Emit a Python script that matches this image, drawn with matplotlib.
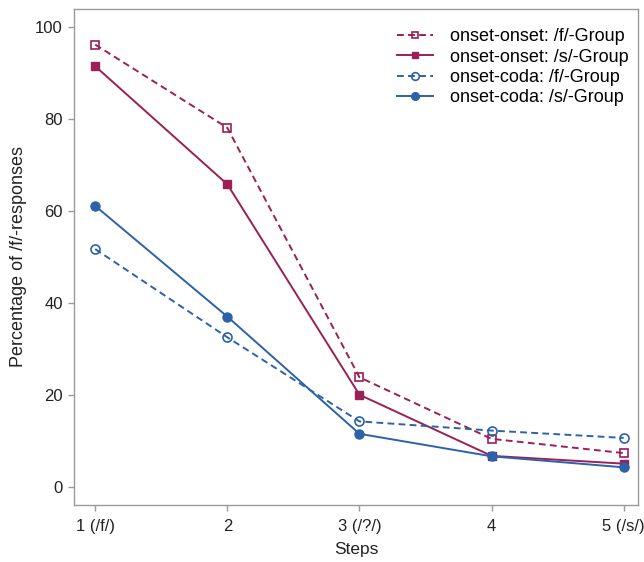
import matplotlib
matplotlib.use("Agg")
import matplotlib.pyplot as plt

plt.rcParams['font.family'] = ['Liberation Sans', 'DejaVu Sans']

steps = [1, 2, 3, 4, 5]
stepLabels = ['1 (/f/)', '2', '3 (/?/)', '4', '5 (/s/)']

onsetOnsetF = [96.2, 78.1, 23.8, 10.4, 7.3]
onsetOnsetS = [91.5, 65.8, 20.0, 6.7, 5.0]
onsetCodaF = [51.7, 32.5, 14.2, 12.2, 10.6]
onsetCodaS = [61.1, 37.0, 11.5, 6.6, 4.2]

red = '#9c1f55'
blue = '#2b62aa'
gray = '#9a9a9a'

fig = plt.figure(figsize=(6.44, 5.62), dpi=100)
ax = fig.add_axes([0.115, 0.1014, 0.876, 0.883])

dash = (0, (3.5, 2.2))
ax.plot(steps, onsetOnsetF, color=red, linestyle=dash, linewidth=1.4,
        marker='s', markersize=5.5, markerfacecolor='none', markeredgecolor=red,
        markeredgewidth=1.2, label='onset-onset: /f/-Group')
ax.plot(steps, onsetOnsetS, color=red, linestyle='-', linewidth=1.4,
        marker='s', markersize=5.5, label='onset-onset: /s/-Group')
ax.plot(steps, onsetCodaF, color=blue, linestyle=dash, linewidth=1.4,
        marker='o', markersize=6.5, markerfacecolor='none', markeredgecolor=blue,
        markeredgewidth=1.2, label='onset-coda: /f/-Group')
ax.plot(steps, onsetCodaS, color=blue, linestyle='-', linewidth=1.4,
        marker='o', markersize=6.5, label='onset-coda: /s/-Group')

ax.set_xlim(0.84, 5.11)
ax.set_ylim(-4.0, 104.0)
ax.set_xticks(steps)
ax.set_xticklabels(stepLabels)
ax.set_yticks([0, 20, 40, 60, 80, 100])
ax.tick_params(colors=gray, labelcolor='#222222', labelsize=12, length=4, width=1)
ax.tick_params(axis='y', pad=4)
ax.tick_params(axis='x', pad=6)

for s in ax.spines.values():
    s.set_color(gray)
    s.set_linewidth(1)

ax.set_xlabel('Steps', fontsize=12.5, color='#222222', labelpad=6)
ax.set_ylabel('Percentage of /f/-responses', fontsize=13, color='#222222', labelpad=6)

ax.legend(loc='upper right', frameon=False, fontsize=13, handlelength=2.0,
          handletextpad=0.9, labelspacing=0.18, borderaxespad=0.0,
          bbox_to_anchor=(0.995, 0.975), markerscale=0.85)

plt.savefig('out.png', dpi=100)
